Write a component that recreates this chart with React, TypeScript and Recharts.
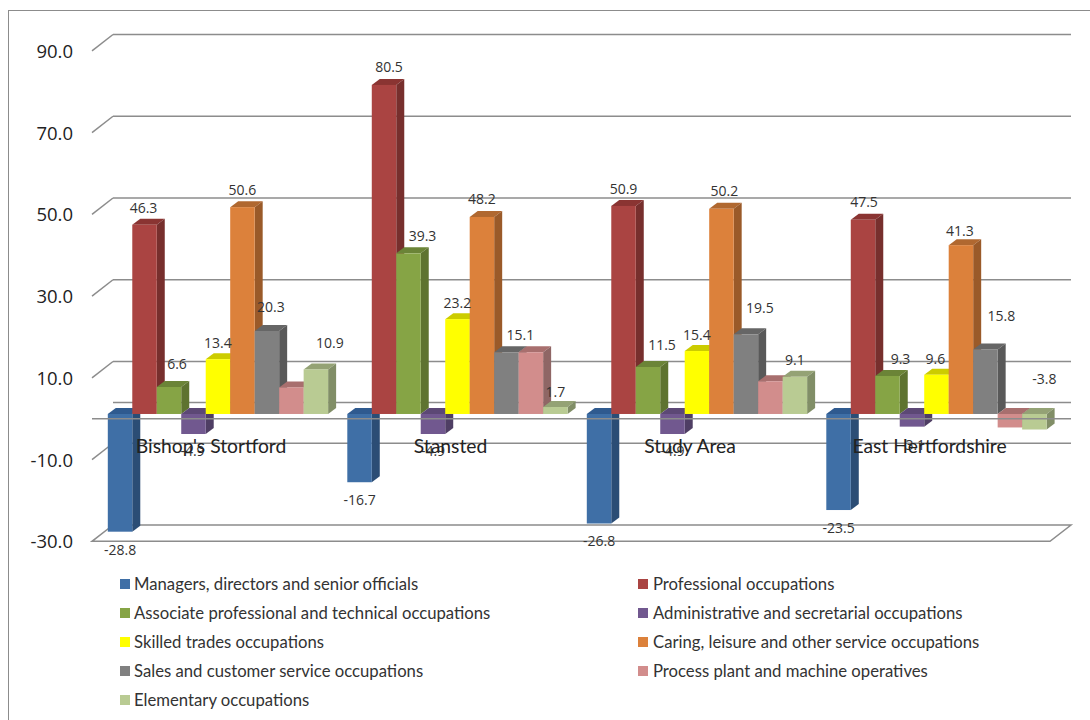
import React from 'react';
import { Bar, BarChart, LabelList, Legend, ReferenceLine, XAxis, YAxis } from 'recharts';

const categories = ["Bishop's Stortford", 'Stansted', 'Study Area', 'East Hertfordshire'];

const seriesNames = [
  'Managers, directors and senior officials',
  'Professional occupations',
  'Associate professional and technical occupations',
  'Administrative and secretarial occupations',
  'Skilled trades occupations',
  'Caring, leisure and other service occupations',
  'Sales and customer service occupations',
  'Process plant and machine operatives',
  'Elementary occupations',
];

const managers = [-28.8, -16.7, -26.8, -23.5];
const professional = [46.3, 80.5, 50.9, 47.5];
const associate = [6.6, 39.3, 11.5, 9.3];
const administrative = [-4.9, -4.9, -4.9, -3.1];
const skilled = [13.4, 23.2, 15.4, 9.6];
const caring = [50.6, 48.2, 50.2, 41.3];
const sales = [20.3, 15.1, 19.5, 15.8];
const process = [6.5, 15.1, 8.0, -3.3];
const elementary = [10.9, 1.7, 9.1, -3.8];

const seriesValues = [managers, professional, associate, administrative, skilled, caring, sales, process, elementary];
const yTicks = [-30, -10, 10, 30, 50, 70, 90];

const faceColors = ['#3f6fa6', '#aa4442', '#86a445', '#71588f', '#ffff00', '#dc813b', '#808080', '#d28d8c', '#b9cb93'];
const topColors = ['#2f5a8f', '#8a3432', '#6b8437', '#5c4875', '#cccc00', '#b06830', '#666666', '#a86f6e', '#94a275'];
const sideColors = ['#2b4d75', '#772f2d', '#5e7330', '#4f3e64', '#b3b300', '#9a5a29', '#595959', '#8f6665', '#818e67'];

// the process plant labels are not shown in the original
const unlabelled = [7];

// label centre relative to the bar end: [dx, dy] for each group
const labelNudges: number[][][] = [
  [[0, 18], [0, 17], [0, 17], [0, 17]],
  [[-1, -17], [5, -18], [0, -17], [1, -18]],
  [[8, -23], [14, -18], [14, -22], [13, -17]],
  [[-1, 16], [0, 16], [0, 16], [1, 18]],
  [[0, -17], [0, -17], [0, -17], [-1, -16]],
  [[0, -18], [0, -18], [3, -18], [-1, -15]],
  [[4, -24], [14, -18], [14, -27], [16, -34]],
  [[0, 0], [0, 0], [0, 0], [0, 0]],
  [[14, -27], [0, -16], [0, -17], [10, -51]],
];

const chartData = categories.map((category, i) => {
  const row: Record<string, string | number> = { category };
  seriesNames.forEach((name, s) => {
    row[name] = seriesValues[s][i];
  });
  return row;
});

const LINE = '#8c8c8c';
const BACK_DX = 15.2;
const BACK_DY = -11.6;
const FRONT_DX = -5.8;
const FRONT_DY = 4.7;
const BAR_DX = 8;
const BAR_DY = 6;

const makeBarShape = (s: number) => (props: any) => {
  const { x, width } = props;
  const top = Math.min(props.y, props.y + props.height);
  const h = Math.abs(props.height);
  const right = x + width;
  return (
    <g>
      <polygon
        points={`${x},${top} ${x + BAR_DX},${top - BAR_DY} ${right + BAR_DX},${top - BAR_DY} ${right},${top}`}
        fill={topColors[s]}
      />
      <polygon
        points={`${right},${top} ${right + BAR_DX},${top - BAR_DY} ${right + BAR_DX},${top + h - BAR_DY} ${right},${top + h}`}
        fill={sideColors[s]}
      />
      <rect x={x} y={top} width={width} height={h} fill={faceColors[s]} />
    </g>
  );
};

const makeBarLabel = (s: number) => (props: any) => {
  const box = props.viewBox ?? props;
  const value = Number(props.value);
  const [dx, dy] = labelNudges[s][props.index];
  const end = value < 0 ? Math.max(box.y, box.y + box.height) : Math.min(box.y, box.y + box.height);
  return (
    <text
      x={box.x + box.width / 2 + dx}
      y={end + dy}
      textAnchor="middle"
      dominantBaseline="central"
      fontFamily="Open Sans"
      fontSize={14}
      fill="#333"
    >
      {value.toFixed(1)}
    </text>
  );
};

// gridline on the back wall, with the short diagonal towards the tick label
const wallLine = (props: any) => {
  const { x1, x2, y1 } = props;
  return (
    <g stroke={LINE} strokeWidth={1.5} fill="none">
      <line x1={x1 + FRONT_DX} y1={y1 + FRONT_DY} x2={x1 + BACK_DX} y2={y1 + BACK_DY} />
      <line x1={x1 + BACK_DX} y1={y1 + BACK_DY} x2={x2 + BACK_DX} y2={y1 + BACK_DY} />
    </g>
  );
};

const backZeroLine = (props: any) => (
  <line
    x1={props.x1 + BACK_DX}
    y1={props.y1 + BACK_DY}
    x2={props.x2 + BACK_DX}
    y2={props.y1 + BACK_DY}
    stroke={LINE}
    strokeWidth={1.5}
  />
);

const floorLine = (props: any) => {
  const { x1, x2, y1 } = props;
  return (
    <g stroke={LINE} strokeWidth={1.5} fill="none">
      <polyline
        points={`${x1 + BACK_DX},${y1 + BACK_DY} ${x2 + BACK_DX},${y1 + BACK_DY} ${x2 + FRONT_DX},${y1 + FRONT_DY} ${x1 + FRONT_DX},${y1 + FRONT_DY} ${x1 + BACK_DX},${y1 + BACK_DY}`}
      />
    </g>
  );
};

const frontZeroLine = (props: any) => (
  <line
    x1={props.x1 + FRONT_DX}
    y1={props.y1 + FRONT_DY}
    x2={props.x2 + BACK_DX}
    y2={props.y1 + FRONT_DY}
    stroke={LINE}
    strokeWidth={1.5}
  />
);

const YTick = (props: any) => (
  <text
    x={73}
    y={props.y + FRONT_DY - 0.5}
    textAnchor="end"
    dominantBaseline="central"
    fontFamily="Open Sans"
    fontSize={18.5}
    fill="#222"
  >
    {Number(props.payload.value).toFixed(1)}
  </text>
);

const XTick = (props: any) => (
  <text
    x={props.x - 6.5}
    y={445}
    textAnchor="middle"
    dominantBaseline="central"
    fontFamily="Lato"
    fontSize={19.3}
    fill="#222"
  >
    {props.payload.value}
  </text>
);

const LegendContent = () => (
  <div style={{ position: 'relative', width: 1090, height: 150 }}>
    {seriesNames.map((name, s) => {
      const col = s % 2;
      const row = Math.floor(s / 2);
      return (
        <div key={name}>
          <div
            style={{
              position: 'absolute',
              left: col === 0 ? 120 : 638,
              top: 9 + row * 29,
              width: 10,
              height: 10,
              background: faceColors[s],
            }}
          />
          <div
            style={{
              position: 'absolute',
              left: col === 0 ? 134 : 653,
              top: 3 + row * 29,
              fontFamily: 'Lato',
              fontSize: 16.7,
              lineHeight: '22px',
              color: '#333',
              whiteSpace: 'nowrap',
            }}
          >
            {name}
          </div>
        </div>
      );
    })}
  </div>
);

export default function App() {
  return (
    <div style={{ position: 'absolute', left: 0, top: 0, width: 1090, height: 720, overflow: 'hidden', background: '#fff' }}>
      <div
        style={{
          position: 'absolute',
          left: 8,
          top: 10,
          width: 1090,
          height: 720,
          borderLeft: `1.5px solid ${LINE}`,
          borderTop: `1.5px solid ${LINE}`,
        }}
      />
      <BarChart
        width={1090}
        height={720}
        data={chartData}
        margin={{ top: 46.1, right: 34.2, bottom: 182.4, left: 96.8 }}
        barSize={24.48}
        barGap={0}
        style={{ position: 'absolute', left: 0, top: 0 }}
      >
        <YAxis
          type="number"
          domain={[-30, 90]}
          ticks={yTicks}
          interval={0}
          width={1}
          axisLine={false}
          tickLine={false}
          tick={YTick}
        />
        {yTicks
          .filter((t) => t > -30)
          .map((t) => (
            <ReferenceLine key={t} y={t} zIndex={-50} shape={wallLine} />
          ))}
        <ReferenceLine y={-30} zIndex={-50} shape={floorLine} />
        <ReferenceLine y={0} zIndex={-50} shape={backZeroLine} />
        {seriesNames.map((name, s) => (
          <Bar key={name} dataKey={name} name={name} fill={faceColors[s]} shape={makeBarShape(s)} isAnimationActive={false}>
            {unlabelled.includes(s) ? null : <LabelList dataKey={name} content={makeBarLabel(s)} />}
          </Bar>
        ))}
        <ReferenceLine y={0} zIndex={450} shape={frontZeroLine} />
        <XAxis dataKey="category" height={1} axisLine={false} tickLine={false} interval={0} tick={XTick} />
        <Legend
          layout="horizontal"
          align="center"
          verticalAlign="middle"
          itemSorter={null}
          content={LegendContent}
          wrapperStyle={{ left: 0, top: 570, width: 1090, height: 150 }}
        />
      </BarChart>
    </div>
  );
}
